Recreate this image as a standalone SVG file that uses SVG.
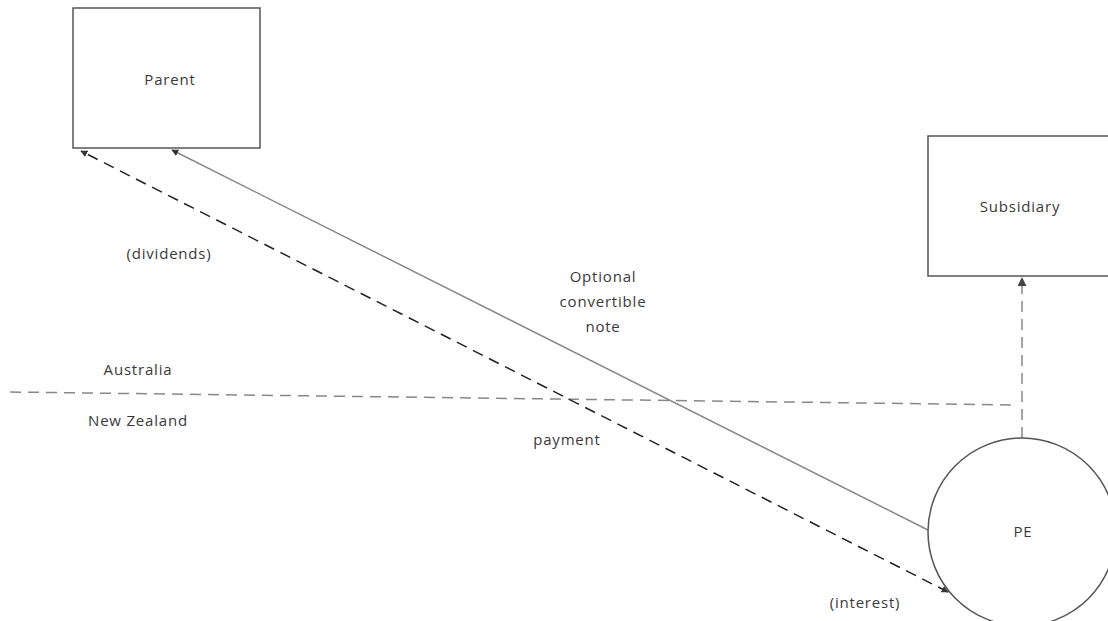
<svg xmlns="http://www.w3.org/2000/svg" width="1108" height="621" viewBox="0 0 1108 621">
<style>
text{font-family:"Open Sans","Liberation Sans",sans-serif;font-size:15px;letter-spacing:0.8px;fill:#3a3a3a;text-anchor:middle}
.box{fill:#fff;stroke:#555;stroke-width:1.5}
.solid{stroke:#888;stroke-width:1.5;fill:none}
.dash{stroke:#222;stroke-width:1.5;stroke-dasharray:11 7;fill:none}
.gdash{stroke:#888;stroke-width:1.5;stroke-dasharray:11 7;fill:none}
</style>
<defs>
<marker id="ah" viewBox="0 0 10 10" refX="9" refY="5" markerWidth="7" markerHeight="7" orient="auto-start-reverse" markerUnits="userSpaceOnUse">
<path d="M0,0 L10,5 L0,10 z" fill="#333"/>
</marker>
<marker id="ahg" viewBox="0 0 10 10" refX="9" refY="5" markerWidth="9" markerHeight="9" orient="auto-start-reverse" markerUnits="userSpaceOnUse">
<path d="M0,0 L10,5 L0,10 z" fill="#444"/>
</marker>
</defs>
<rect width="1108" height="621" fill="#fff"/>
<g id="border">
<path class="gdash" d="M10,392 L1018,405"/>
<text x="138" y="375">Australia</text>
<text x="138" y="426">New Zealand</text>
</g>
<g id="connectors">
<path class="solid" d="M928,530 L172,150" marker-end="url(#ah)"/>
<path class="dash" d="M948,592 L81,151" marker-start="url(#ah)" marker-end="url(#ah)"/>
<path class="gdash" d="M1022,438 L1022,278" marker-end="url(#ahg)"/>
</g>
<g id="parent">
<rect class="box" x="73" y="8" width="187" height="140"/>
<text x="170" y="85">Parent</text>
</g>
<g id="subsidiary">
<rect class="box" x="928" y="136" width="185" height="140"/>
<text x="1020" y="212">Subsidiary</text>
</g>
<g id="pe">
<circle class="box" cx="1022" cy="532" r="94"/>
<text x="1023" y="537">PE</text>
</g>
<g id="labels">
<text x="169" y="259">(dividends)</text>
<text x="603" y="282">Optional</text>
<text x="603" y="307">convertible</text>
<text x="603" y="332">note</text>
<text x="567" y="445">payment</text>
<text x="865" y="608">(interest)</text>
</g>
</svg>
